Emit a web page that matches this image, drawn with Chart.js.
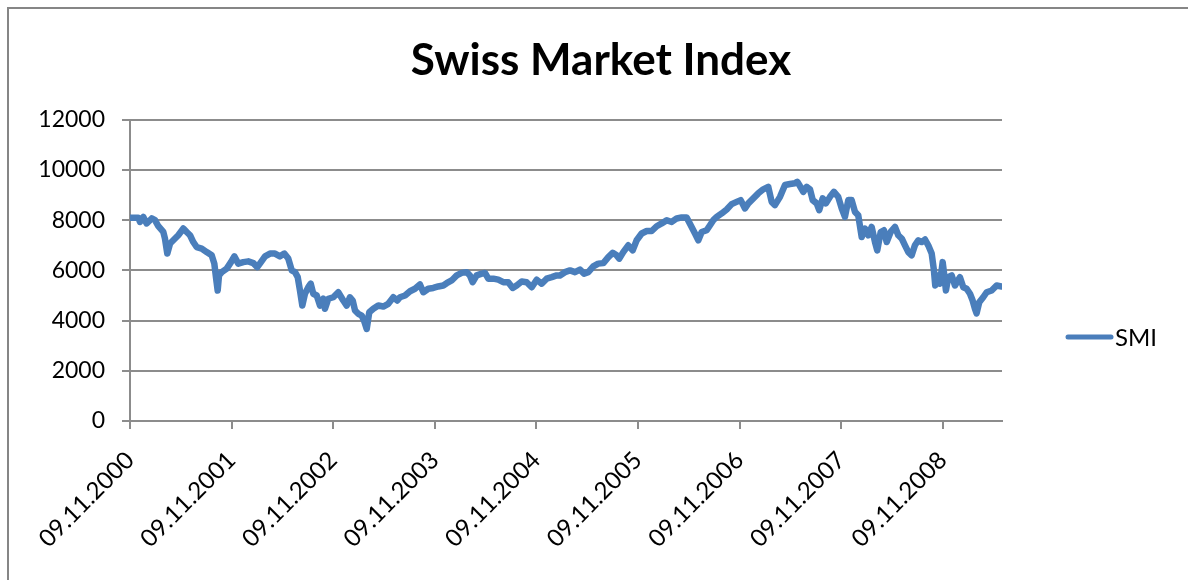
<!DOCTYPE html>
<html>
<head>
<meta charset="utf-8">
<title>Swiss Market Index</title>
<script src="https://cdn.jsdelivr.net/npm/chart.js@4.4.1/dist/chart.umd.min.js"></script>
<style>
    html, body { margin: 0; padding: 0; background: #fff; overflow: hidden; }
    #frame {
        position: absolute; left: 7px; top: 7px; width: 1300px; height: 700px;
        border-left: 2px solid #868686; border-top: 2px solid #868686;
    }
    #smiChart { position: absolute; left: 0; top: 0; }
</style>
</head>
<body>
<div id="frame"></div>
<canvas id="smiChart" width="1188" height="580"></canvas>
<script>
// --- Data ---
// position on the time axis, in years after 09.11.2000
const yearOffsets = [
    0.000, 0.082, 0.098, 0.131, 0.164, 0.214, 0.246, 0.279, 0.328, 0.344,
    0.367, 0.394, 0.426, 0.475, 0.525, 0.558, 0.591, 0.623, 0.656, 0.706,
    0.755, 0.804, 0.830, 0.846, 0.863, 0.876, 0.903, 0.952, 0.994, 1.027,
    1.066, 1.115, 1.164, 1.214, 1.253, 1.289, 1.329, 1.378, 1.427, 1.476,
    1.519, 1.558, 1.592, 1.624, 1.651, 1.673, 1.696, 1.722, 1.755, 1.779,
    1.804, 1.838, 1.870, 1.903, 1.919, 1.952, 2.001, 2.050, 2.099, 2.133,
    2.165, 2.192, 2.215, 2.247, 2.281, 2.303, 2.330, 2.355, 2.395, 2.444,
    2.493, 2.542, 2.592, 2.631, 2.657, 2.707, 2.756, 2.805, 2.854, 2.887,
    2.936, 2.985, 3.034, 3.084, 3.117, 3.166, 3.216, 3.265, 3.314, 3.346,
    3.373, 3.412, 3.462, 3.494, 3.527, 3.576, 3.625, 3.674, 3.723, 3.767,
    3.806, 3.855, 3.904, 3.954, 4.003, 4.052, 4.101, 4.151, 4.200, 4.232,
    4.281, 4.331, 4.380, 4.429, 4.469, 4.511, 4.560, 4.609, 4.659, 4.708,
    4.751, 4.790, 4.816, 4.855, 4.904, 4.948, 4.987, 5.036, 5.086, 5.135,
    5.184, 5.233, 5.283, 5.332, 5.381, 5.430, 5.479, 5.519, 5.561, 5.594,
    5.627, 5.676, 5.709, 5.741, 5.775, 5.824, 5.873, 5.922, 5.971, 6.011,
    6.053, 6.086, 6.135, 6.184, 6.233, 6.282, 6.316, 6.348, 6.398, 6.447,
    6.496, 6.545, 6.568, 6.594, 6.627, 6.660, 6.693, 6.720, 6.759, 6.784,
    6.818, 6.850, 6.890, 6.929, 6.971, 7.005, 7.037, 7.070, 7.103, 7.136,
    7.168, 7.202, 7.234, 7.267, 7.300, 7.333, 7.355, 7.389, 7.421, 7.448,
    7.487, 7.530, 7.562, 7.596, 7.628, 7.661, 7.694, 7.726, 7.759, 7.792,
    7.825, 7.857, 7.891, 7.913, 7.926, 7.946, 7.972, 7.999, 8.015, 8.031,
    8.054, 8.088, 8.120, 8.169, 8.202, 8.235, 8.268, 8.294, 8.317, 8.333,
    8.359, 8.398, 8.432, 8.481, 8.530, 8.580
];

const smiValues = [
    8100, 8100, 7930, 8130, 7870, 8070, 8000, 7760, 7530, 7270,
    6670, 7070, 7200, 7400, 7670, 7530, 7400, 7130, 6930, 6870,
    6730, 6600, 6270, 5730, 5200, 5800, 5930, 6070, 6330, 6560,
    6270, 6330, 6360, 6290, 6130, 6330, 6560, 6670, 6670, 6560,
    6670, 6470, 6000, 5930, 5730, 5200, 4600, 5070, 5330, 5470,
    5070, 5000, 4600, 4870, 4470, 4870, 4930, 5130, 4800, 4600,
    4930, 4800, 4400, 4270, 4200, 4000, 3670, 4330, 4470, 4600,
    4560, 4670, 4930, 4800, 4930, 5000, 5170, 5270, 5440, 5130,
    5270, 5300, 5360, 5400, 5490, 5600, 5800, 5900, 5930, 5800,
    5530, 5800, 5870, 5900, 5670, 5670, 5630, 5530, 5530, 5300,
    5400, 5560, 5530, 5330, 5630, 5470, 5670, 5730, 5800, 5800,
    5930, 6000, 5930, 6030, 5870, 5930, 6160, 6270, 6290, 6530,
    6700, 6600, 6470, 6730, 7000, 6800, 7200, 7470, 7570, 7570,
    7760, 7870, 8000, 7930, 8070, 8110, 8110, 7800, 7470, 7200,
    7530, 7600, 7800, 8000, 8130, 8270, 8430, 8640, 8730, 8800,
    8470, 8670, 8870, 9070, 9230, 9330, 8730, 8600, 8930, 9400,
    9440, 9470, 9530, 9360, 9130, 9330, 9230, 8800, 8670, 8400,
    8870, 8670, 8930, 9130, 8930, 8470, 8130, 8800, 8800, 8330,
    8200, 7330, 7670, 7400, 7730, 7130, 6800, 7530, 7600, 7130,
    7530, 7730, 7400, 7270, 7000, 6730, 6600, 7000, 7200, 7130,
    7230, 7000, 6670, 6000, 5400, 5800, 5470, 6330, 5800, 5200,
    5730, 5800, 5400, 5730, 5330, 5270, 5070, 4800, 4470, 4290,
    4730, 4930, 5130, 5200, 5400, 5360
];

const tickYears = [0, 1, 2, 3, 4, 5, 6, 7, 8];
const tickLabels = ['09.11.2000', '09.11.2001', '09.11.2002', '09.11.2003', '09.11.2004',
    '09.11.2005', '09.11.2006', '09.11.2007', '09.11.2008'];
const yTicks = [0, 2000, 4000, 6000, 8000, 10000, 12000];

// --- Look ---
const COLORS = {
    line: '#4a7ebb',
    grid: '#8c8c8c',
    text: '#000000'
};
const FONT = 'Lato, "Open Sans", sans-serif';

// legend drawn by hand so it sits where Excel put it
const legendPlugin = {
    id: 'smiLegend',
    afterDraw(chart) {
        const ctx = chart.ctx;
        ctx.save();
        ctx.strokeStyle = COLORS.line;
        ctx.lineWidth = 5;
        ctx.lineCap = 'round';
        ctx.beginPath();
        ctx.moveTo(1068, 337);
        ctx.lineTo(1111, 337);
        ctx.stroke();
        ctx.fillStyle = COLORS.text;
        ctx.font = '24px ' + FONT;
        ctx.textBaseline = 'middle';
        ctx.fillText('SMI', 1115, 338);
        ctx.restore();
    }
};

Chart.defaults.font.family = FONT;
Chart.defaults.color = COLORS.text;

new Chart(document.getElementById('smiChart'), {
    type: 'line',
    data: {
        datasets: [{
            label: 'SMI',
            data: yearOffsets.map((t, i) => ({ x: t, y: smiValues[i] })),
            borderColor: COLORS.line,
            backgroundColor: COLORS.line,
            borderWidth: 6.5,
            borderJoinStyle: 'round',
            borderCapStyle: 'round',
            pointRadius: 0,
            tension: 0,
            yAxisID: 'y'
        }]
    },
    options: {
        responsive: false,
        animation: false,
        layout: { padding: { left: 14, right: 0, top: 7, bottom: 0 } },
        plugins: {
            legend: { display: false },
            tooltip: { enabled: false },
            title: {
                display: true,
                text: 'Swiss Market Index',
                color: COLORS.text,
                font: { size: 44, weight: 'bold', family: FONT, lineHeight: 1.2 },
                padding: { top: 27, bottom: 33 }
            }
        },
        scales: {
            x: {
                type: 'linear',
                min: 0,
                max: 8.583,
                afterBuildTicks: (scale) => { scale.ticks = tickYears.map(v => ({ value: v })); },
                afterFit: (scale) => { scale.height = 159; },
                grid: { drawOnChartArea: false, drawTicks: true, tickLength: 8, color: COLORS.grid, lineWidth: 2 },
                border: { display: true, color: COLORS.grid, width: 2 },
                ticks: {
                    autoSkip: false,
                    minRotation: 45,
                    maxRotation: 45,
                    padding: 17,
                    font: { size: 24 },
                    callback: (v, i) => tickLabels[i]
                }
            },
            y: {
                position: 'left',
                min: 0,
                max: 12000,
                afterBuildTicks: (scale) => { scale.ticks = yTicks.map(v => ({ value: v })); },
                afterFit: (scale) => { scale.width = 116; },
                grid: { color: COLORS.grid, lineWidth: 2, tickLength: 8 },
                border: { display: true, color: COLORS.grid, width: 2 },
                ticks: { padding: 17, font: { size: 23 }, callback: (v) => String(v) }
            },
            // empty right-hand box: keeps room for the legend without moving the title
            spacer: {
                type: 'linear',
                position: 'right',
                display: true,
                min: 0,
                max: 1,
                afterFit: (scale) => { scale.width = 186; },
                grid: { display: false, drawOnChartArea: false },
                border: { display: false },
                ticks: { display: false }
            }
        }
    },
    plugins: [legendPlugin]
});
</script>
</body>
</html>
